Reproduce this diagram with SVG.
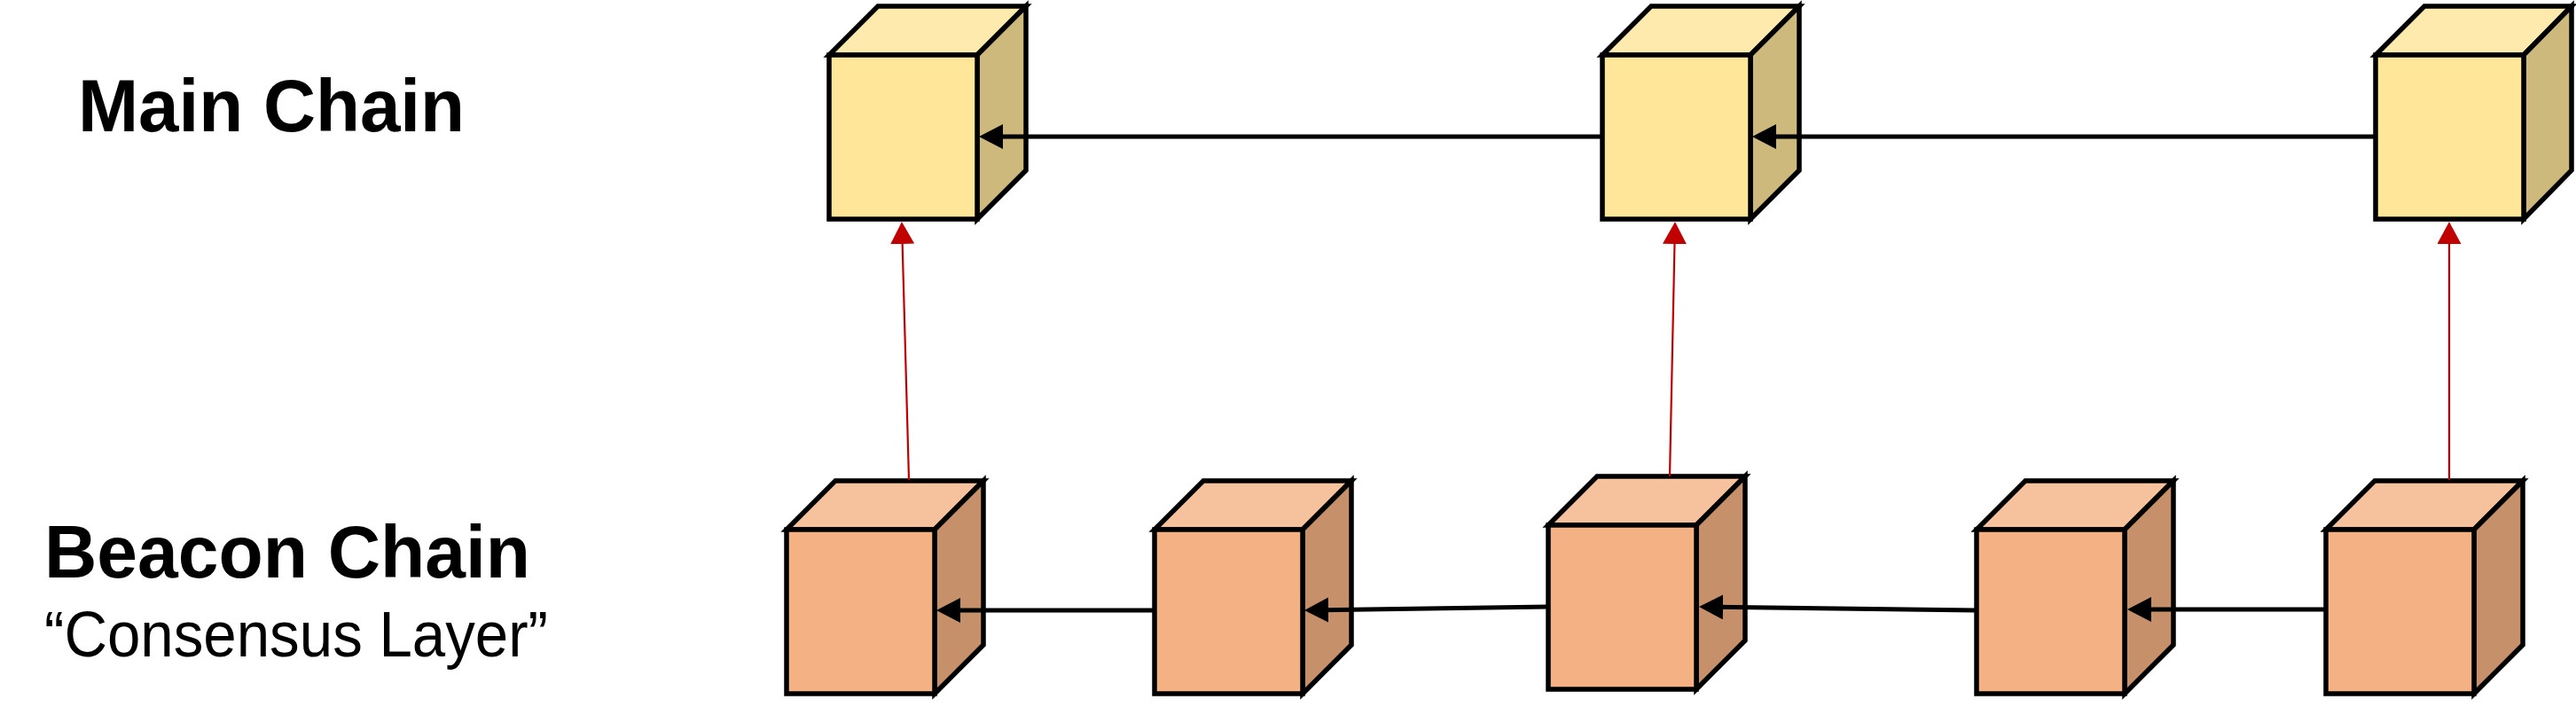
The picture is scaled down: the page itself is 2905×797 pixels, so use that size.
<svg xmlns="http://www.w3.org/2000/svg" width="2905" height="797" viewBox="0 0 2905 797">
  <style>
    .edge { stroke: #000; stroke-width: 5.5; stroke-linejoin: miter; }
    .yf { fill: #FFE699; } .yt { fill: #FFEAAD; } .yr { fill: #CDB97B; }
    .bf { fill: #F4B183; } .bt { fill: #F6C29D; } .br { fill: #C5906A; }
    .link { stroke: #000; stroke-width: 5; fill: none; marker-end: url(#blackArrow); }
    .ref { stroke: #C00000; stroke-width: 2.2; fill: none; marker-end: url(#redArrow); }
    .title { font-family: "Liberation Sans", Arial, sans-serif; font-weight: bold; font-size: 84px; fill: #000; }
    .sub { font-family: "Liberation Sans", Arial, sans-serif; font-size: 72px; fill: #000; }
  </style>
  <defs>
    <marker id="blackArrow" markerUnits="userSpaceOnUse" markerWidth="32" markerHeight="32" refX="7" refY="14" orient="auto">
      <path d="M0,0 L27,14 L0,28 Z" fill="#000"/>
    </marker>
    <marker id="redArrow" markerUnits="userSpaceOnUse" markerWidth="30" markerHeight="30" refX="5" refY="13.5" orient="auto">
      <path d="M0,0 L25,13.5 L0,27 Z" fill="#C00000"/>
    </marker>
  </defs>
  <rect width="2905" height="797" fill="#fff"/>

  <g id="labels">
    <text class="title" x="88" y="148" textLength="436" lengthAdjust="spacingAndGlyphs">Main Chain</text>
    <text class="title" x="50" y="651" textLength="548" lengthAdjust="spacingAndGlyphs">Beacon Chain</text>
    <text class="sub" x="50" y="740" textLength="568" lengthAdjust="spacingAndGlyphs">“Consensus Layer”</text>
  </g>

  <!-- Main chain blocks -->
  <g id="main1" class="edge">
    <polygon class="yt" points="935,62 990,7 1157,7 1102,62"/>
    <polygon class="yr" points="1102,62 1157,7 1157,192 1102,247"/>
    <rect class="yf" x="935" y="62" width="167" height="185"/>
  </g>
  <g id="main2" class="edge">
    <polygon class="yt" points="1807,62 1862,7 2029,7 1974,62"/>
    <polygon class="yr" points="1974,62 2029,7 2029,192 1974,247"/>
    <rect class="yf" x="1807" y="62" width="167" height="185"/>
  </g>
  <g id="main3" class="edge">
    <polygon class="yt" points="2679,62 2734,7 2900,7 2846,62"/>
    <polygon class="yr" points="2846,62 2900,7 2900,192 2846,247"/>
    <rect class="yf" x="2679" y="62" width="167" height="185"/>
  </g>

  <!-- Beacon chain blocks -->
  <g id="beacon1" class="edge">
    <polygon class="bt" points="887,597 942,542 1109,542 1054,597"/>
    <polygon class="br" points="1054,597 1109,542 1109,727 1054,782"/>
    <rect class="bf" x="887" y="597" width="167" height="185"/>
  </g>
  <g id="beacon2" class="edge">
    <polygon class="bt" points="1302,597 1357,542 1524,542 1469,597"/>
    <polygon class="br" points="1469,597 1524,542 1524,727 1469,782"/>
    <rect class="bf" x="1302" y="597" width="167" height="185"/>
  </g>
  <g id="beacon3" class="edge">
    <polygon class="bt" points="1746,592 1801,537 1968,537 1913,592"/>
    <polygon class="br" points="1913,592 1968,537 1968,722 1913,777"/>
    <rect class="bf" x="1746" y="592" width="167" height="185"/>
  </g>
  <g id="beacon4" class="edge">
    <polygon class="bt" points="2229,597 2284,542 2451,542 2396,597"/>
    <polygon class="br" points="2396,597 2451,542 2451,727 2396,782"/>
    <rect class="bf" x="2229" y="597" width="167" height="185"/>
  </g>
  <g id="beacon5" class="edge">
    <polygon class="bt" points="2623,597 2678,542 2845,542 2790,597"/>
    <polygon class="br" points="2790,597 2845,542 2845,727 2790,782"/>
    <rect class="bf" x="2623" y="597" width="167" height="185"/>
  </g>

  <g id="connectors">
    <line class="link" x1="1807" y1="154" x2="1124" y2="154"/>
    <line class="link" x1="2679" y1="154" x2="1996" y2="154"/>
    <line class="link" x1="1302" y1="688" x2="1076" y2="688"/>
    <line class="link" x1="1746" y1="684" x2="1491" y2="687.7"/>
    <line class="link" x1="2229" y1="688" x2="1936" y2="684.3"/>
    <line class="link" x1="2623" y1="687" x2="2419" y2="687"/>
    <line class="ref" x1="1025" y1="541" x2="1017.5" y2="270"/>
    <line class="ref" x1="1883" y1="537" x2="1888.6" y2="270"/>
    <line class="ref" x1="2762" y1="541" x2="2762" y2="270"/>
  </g>
</svg>
